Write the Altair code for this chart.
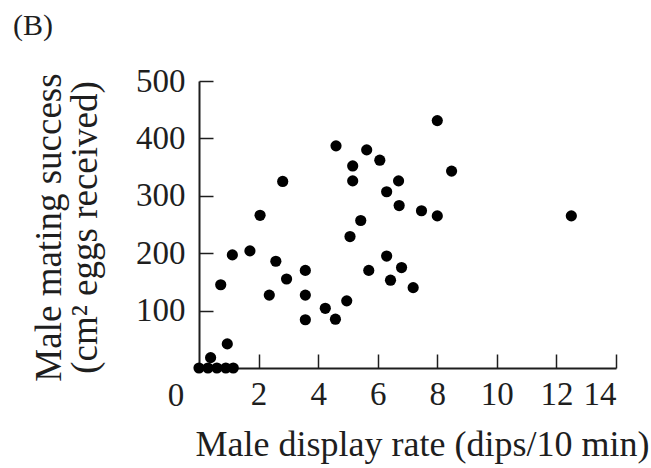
import altair as alt
import pandas as pd

# Data
display_rate = [4.6, 5.16, 5.16, 5.63, 6.07, 2.81, 6.70, 6.30, 6.72, 7.47, 8.0, 8.0, 8.48, 12.5,
                6.30, 6.80, 6.43, 7.19, 2.05, 5.43, 5.07, 1.12, 1.71, 2.58, 3.57, 2.94, 5.70,
                0.73, 2.36, 3.57, 4.24, 4.96, 3.57, 4.58, 0.95, 0.39, 0.0, 0.3, 0.6, 0.9, 1.15]
mating_success = [387, 352, 326, 380, 362, 325, 326, 307, 283, 274, 265, 431, 343, 265,
                  195, 175, 153, 140, 266, 257, 229, 197, 204, 186, 170, 155, 170,
                  145, 127, 127, 104, 117, 84, 85, 42, 18, 0, 0, 0, 0, 0]

x_ticks = [2, 4, 6, 8, 10, 12, 14]
y_ticks = [100, 200, 300, 400, 500]
origin_label = ["0"]
panel_label = ["(B)"]
x_title = "Male display rate (dips/10 min)"
y_title = ["Male mating success", "(cm\u00b2 eggs received)"]

FONT = "Liberation Serif"
INK = "#1e1e1e"

df = pd.DataFrame({"rate": display_rate, "success": mating_success})
origin = pd.DataFrame({"rate": [0], "success": [0], "label": origin_label})
panel = pd.DataFrame({"label": panel_label})

xscale = alt.Scale(domain=[0, 14], nice=False, zero=False)
yscale = alt.Scale(domain=[0, 500], nice=False)

points = alt.Chart(df).mark_circle(size=125, color="black", opacity=1).encode(
    x=alt.X("rate:Q", scale=xscale, axis=alt.Axis(
        values=x_ticks, tickSize=alt.ExprRef(expr="-14"), tickColor=INK, tickWidth=1.5,
        grid=False, domainColor=INK, domainWidth=2,
        labelFont=FONT, labelFontSize=33, labelColor=INK, labelPadding=24,
        title=x_title, titleFont=FONT, titleFontSize=36, titleFontWeight="normal",
        titleColor=INK, titleX=223, titleY=87, titleBaseline="alphabetic")),
    y=alt.Y("success:Q", scale=yscale, axis=alt.Axis(
        values=y_ticks, tickSize=alt.ExprRef(expr="-14"), tickColor=INK, tickWidth=1.5,
        grid=False, domainColor=INK, domainWidth=2,
        labelFont=FONT, labelFontSize=33, labelColor=INK, labelPadding=28,
        title=y_title, titleFont=FONT, titleFontSize=37, titleFontWeight="normal",
        titleColor=INK, titleX=-131, titleY=146, titleBaseline="bottom",
        titleLineHeight=36, titleAngle=270)),
)

zero = alt.Chart(origin).mark_text(
    font=FONT, fontSize=33, color=INK, dx=-23, dy=28, baseline="middle", align="center"
).encode(
    x=alt.X("rate:Q", scale=xscale),
    y=alt.Y("success:Q", scale=yscale),
    text="label:N",
)

label = alt.Chart(panel).mark_text(
    font=FONT, fontSize=30, color=INK, align="left", baseline="middle"
).encode(
    x=alt.value(-186), y=alt.value(-55), text="label:N"
)

chart = alt.layer(points, zero, label).properties(
    width=417, height=287,
    autosize=alt.AutoSizeParams(type="none"),
    padding={"left": 199, "top": 81, "right": 35, "bottom": 100},
).configure_view(strokeWidth=0)

chart.save("out.html", embed_options={"renderer": "svg", "actions": False})
